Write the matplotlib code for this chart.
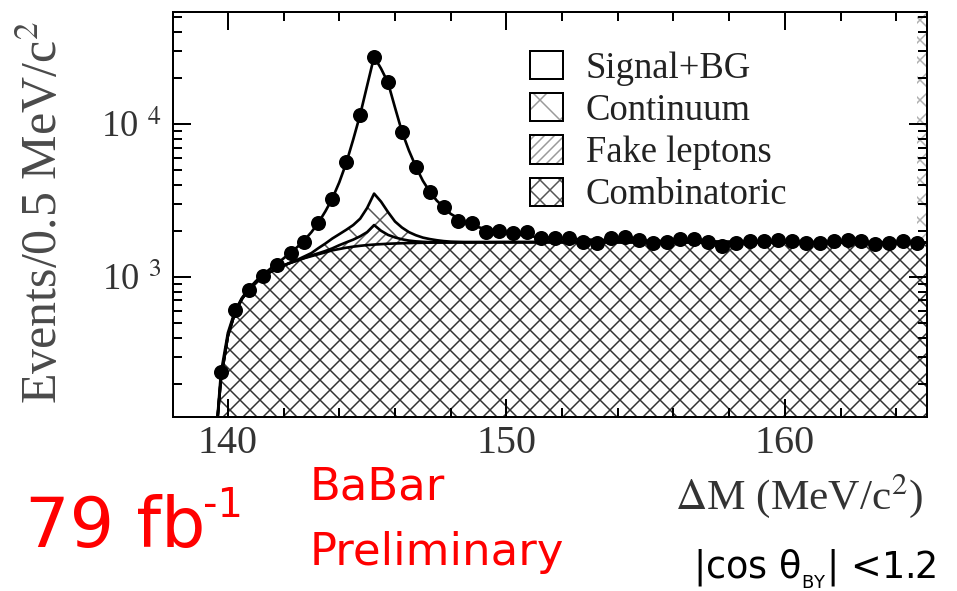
import numpy as np
import matplotlib
matplotlib.use('Agg')
import matplotlib.pyplot as plt
from matplotlib.patches import Patch
from matplotlib.legend_handler import HandlerTuple
from matplotlib.ticker import FixedLocator, LogLocator, MultipleLocator, FuncFormatter, NullFormatter

plt.rcParams['font.family'] = ['Liberation Serif', 'DejaVu Serif']
plt.rcParams['mathtext.fontset'] = 'stix'
plt.rcParams['hatch.linewidth'] = 0.9

# measured Delta M distribution, 0.5 MeV/c^2 bins
dm_bins = np.arange(139.75, 165.0, 0.5)
events = [240, 605, 822, 1015, 1197, 1440, 1678, 2250, 3250, 5600,
          11450, 27300, 18900, 8900, 5260, 3610, 2860, 2330, 2255, 1960,
          2000, 1930, 1950, 1790, 1790, 1790, 1700, 1660, 1790, 1810,
          1745, 1660, 1700, 1762, 1762, 1678, 1596, 1660, 1702, 1702,
          1745, 1702, 1660, 1660, 1718, 1745, 1718, 1643, 1676, 1702,
          1660]

# fit components (stacked: combinatoric, + fake leptons, + continuum, + signal)
fit_dm = [139.55, 139.75, 140.0, 140.25, 140.5, 140.75,
          141.0, 141.25, 141.5, 141.75, 142.0, 142.25, 142.5, 142.75,
          143.0, 143.25, 143.5, 143.75, 144.0, 144.25, 144.5, 144.75,
          145.0, 145.25, 145.5, 145.75, 146.0, 146.25, 146.5, 146.75,
          147.0, 147.25, 147.5, 147.75, 148.0, 148.5, 149.0, 149.5,
          150.0, 151.0, 152.0, 153.0, 155.0, 158.0, 161.0, 165.2]
fit_total = [80, 235, 430, 595, 725, 835,
             935, 1030, 1120, 1215, 1320, 1440, 1570, 1740,
             1960, 2260, 2680, 3250, 4150, 5550, 7900, 11500,
             17800, 27500, 23000, 18600, 12800, 8900, 6700, 5250,
             4250, 3600, 3150, 2850, 2580, 2280, 2110, 2000,
             1930, 1830, 1780, 1750, 1720, 1700, 1690, 1680]
fit_cont = [80, 215, 410, 580, 715, 825,
            920, 1000, 1070, 1130, 1185, 1240, 1295, 1360,
            1430, 1540, 1650, 1780, 1900, 2030, 2180, 2400,
            2820, 3500, 3100, 2650, 2300, 2100, 1960, 1870,
            1805, 1765, 1735, 1712, 1698, 1688, 1685, 1684,
            1685, 1685, 1685, 1684, 1683, 1682, 1681, 1680]
fit_fake = [80, 215, 410, 580, 715, 825,
            920, 1000, 1070, 1130, 1185, 1235, 1280, 1330,
            1380, 1425, 1475, 1535, 1610, 1680, 1750, 1840,
            1960, 2180, 2000, 1880, 1810, 1760, 1725, 1705,
            1693, 1686, 1681, 1679, 1679, 1681, 1683, 1684,
            1685, 1685, 1685, 1684, 1683, 1682, 1681, 1680]
fit_comb = [80, 215, 410, 580, 715, 825,
            920, 1000, 1070, 1130, 1185, 1235, 1280, 1325,
            1365, 1405, 1445, 1490, 1520, 1550, 1575, 1595,
            1612, 1625, 1635, 1645, 1652, 1658, 1663, 1667,
            1670, 1673, 1675, 1677, 1679, 1681, 1683, 1684,
            1685, 1685, 1685, 1684, 1683, 1682, 1681, 1680]

legend_labels = ['Signal+BG', 'Continuum', 'Fake leptons', 'Combinatoric']

fig = plt.figure(figsize=(957 / 120, 591 / 120), dpi=120)
ax = fig.add_axes([0.1805, 0.2949, 0.7878, 0.6848])
ax.set_yscale('log')
ax.set_xlim(138.02, 165.09)
ax.set_ylim(121.6, 53950)
x_lo, x_hi = ax.get_xlim()
y_floor, y_top = ax.get_ylim()

comb_hatch = '#333333'
ax.fill_between(fit_dm, y_floor, fit_comb, facecolor='white',
                edgecolor=comb_hatch, hatch='xx', linewidth=0)
ax.fill_between(fit_dm, fit_comb, fit_fake, facecolor='white',
                edgecolor='#666666', hatch='////', linewidth=0)
ax.fill_between(fit_dm, fit_fake, fit_cont, facecolor='white',
                edgecolor='#555555', hatch='x', linewidth=0)
# last bin continuum overflow strip along the right edge
ax.fill_between([dm_bins[-1], x_hi], events[-1], y_top, facecolor='white',
                edgecolor='#b0b0b0', hatch='xx', linewidth=0)

for curve in (fit_comb, fit_fake, fit_cont, fit_total):
    ax.plot(fit_dm, curve, color='black', lw=1.6, solid_joinstyle='round')

ax.plot(dm_bins, events, 'o', color='black', ms=8, clip_on=False, zorder=5)

# axes styling
for sp in ax.spines.values():
    sp.set_linewidth(1.2)
ax.xaxis.set_major_locator(MultipleLocator(10))
ax.xaxis.set_minor_locator(MultipleLocator(2))
ax.yaxis.set_major_locator(FixedLocator([1e3, 1e4]))
ax.yaxis.set_minor_locator(LogLocator(base=10, subs=np.arange(2, 10)))
ax.yaxis.set_minor_formatter(NullFormatter())
ax.yaxis.set_major_formatter(FuncFormatter(lambda v, p: '10 $^{%d}$' % round(np.log10(v))))
ax.tick_params(which='both', direction='in', top=True, right=True, width=1.2, colors='black',
               labelcolor='#333333', labelsize=22)
ax.tick_params(axis='x', labelsize=24)
ax.tick_params(which='major', length=11)
ax.tick_params(which='minor', length=5.5)
ax.tick_params(axis='x', pad=5)
ax.tick_params(axis='y', pad=7)

# legend with grey hatching inside black boxes
handles = [
    Patch(facecolor='white', edgecolor='black', lw=1.2),
    (Patch(facecolor='white', edgecolor='#9a9a9a', hatch='x', lw=0),
     Patch(facecolor='none', edgecolor='black', lw=1.2)),
    (Patch(facecolor='white', edgecolor='#9a9a9a', hatch='////', lw=0),
     Patch(facecolor='none', edgecolor='black', lw=1.2)),
    (Patch(facecolor='white', edgecolor='#555555', hatch='xx', lw=0),
     Patch(facecolor='none', edgecolor='black', lw=1.2)),
]
ax.legend(handles, legend_labels, handler_map={tuple: HandlerTuple(ndivide=1, pad=0)},
          loc='upper left', bbox_to_anchor=(0.474, 0.903), frameon=False,
          fontsize=22, handlelength=0.9, handleheight=0.8, handletextpad=0.62,
          labelspacing=0.2, borderpad=0, borderaxespad=0, labelcolor='#222222')

# axis titles
fig.text(45 / 957, 1 - 212 / 591, 'Events/0.5 MeV/c$^{2}$', rotation=90,
         ha='center', va='center', fontsize=30, color='#4a4a4a')
fig.text(923 / 957, 1 - 496 / 591, r'$\Delta$M (MeV/c$^{2}$)', ha='right', va='center',
         fontsize=26, color='#333333')

# annotations
red = '#ff0000'
fig.text(25 / 957, 1 - 547 / 591, '79 fb', ha='left', va='baseline', color=red,
         fontsize=42, family='DejaVu Sans')
fig.text(203 / 957, 1 - 517 / 591, '-1', ha='left', va='baseline', color=red,
         fontsize=24, family='DejaVu Sans')
fig.text(310 / 957, 1 - 499 / 591, 'BaBar', ha='left', va='baseline', color=red,
         fontsize=27, family='DejaVu Sans')
fig.text(310 / 957, 1 - 565 / 591, 'Preliminary', ha='left', va='baseline', color=red,
         fontsize=27, family='DejaVu Sans')
fig.text(693 / 957, 1 - 578 / 591, r'|cos θ$_{\mathregular{_{BY}}}$| <1.2', ha='left',
         va='baseline', color='black', fontsize=22, family='DejaVu Sans',
         math_fontfamily='dejavusans')

fig.savefig('out.png', dpi=120, facecolor='white')
